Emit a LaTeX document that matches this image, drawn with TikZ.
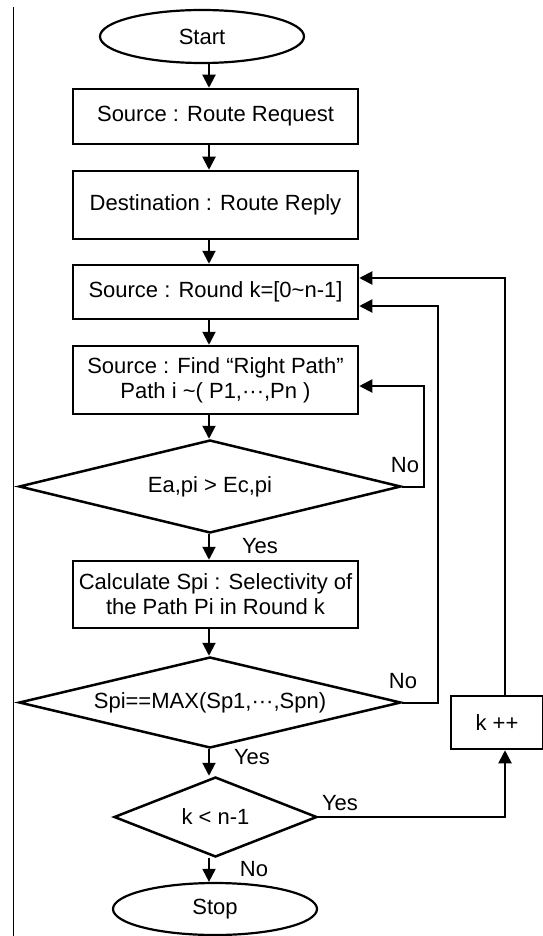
\documentclass[tikz,border=0pt]{standalone}
\usepackage{fontspec}
\setmainfont{Liberation Sans}
\usetikzlibrary{shapes.geometric,arrows.meta}

\begin{document}
\begin{tikzpicture}[x=1pt, y=-1pt, >={Triangle[length=13pt,width=13pt]},
  font=\fontsize{22}{25}\selectfont,
  procbox/.style={draw, line width=2.5pt, minimum width=285pt, inner sep=0pt, align=center},
  decision/.style={draw, diamond, line width=2.5pt, inner sep=0pt},
  term/.style={draw, ellipse, line width=2.2pt, inner sep=0pt},
  flow/.style={->, line width=2pt},
  lbl/.style={inner sep=0pt}]
  \useasboundingbox (0,0) rectangle (542,936);
  % Left rule
  \draw[line width=1pt] (13,7) -- (13,936);
  % Nodes
  \node[term, minimum width=204pt, minimum height=53pt] (start) at (202,36.5) {Start};
  \node[procbox, minimum height=55pt] (req) at (215.5,116.5) {Source : Route Request};
  \node[procbox, minimum height=68pt] (rep) at (215.5,205) {Destination : Route Reply};
  \node[procbox, minimum height=54pt] (round) at (215.5,292) {Source : Round k=[0\textasciitilde n-1]};
  \node[procbox, minimum height=68pt] (find) at (215.5,380) {Source : Find “Right Path”\\Path i \textasciitilde( P1,···,Pn )};
  \node[decision, aspect=4, minimum width=382pt, minimum height=93pt] (cmp1) at (210,486.5) {Ea,pi > Ec,pi};
  \node[procbox, minimum height=67pt] (calc) at (215.5,594.5) {Calculate Spi : Selectivity of\\the Path Pi in Round k};
  \node[decision, aspect=4, minimum width=382pt, minimum height=91pt] (cmp2) at (210,702.5) {Spi==MAX(Sp1,···,Spn)};
  \node[decision, aspect=2.5, minimum width=203pt, minimum height=80pt] (cmp3) at (215.5,817) {k < n-1};
  \node[term, minimum width=204pt, minimum height=52pt] (stop) at (215,909) {Stop};
  \node[procbox, minimum width=92pt, minimum height=53pt] (kpp) at (497,722.5) {k ++};
  % Branch labels
  \node[lbl] (no1) at (405,465) {No};
  \node[lbl] (yes1) at (260,546) {Yes};
  \node[lbl] (no2) at (403,681) {No};
  \node[lbl] (yes2) at (252,757) {Yes};
  \node[lbl] (yes3) at (340,803) {Yes};
  \node[lbl] (no3) at (254,869) {No};
  % Main column
  \coordinate (col) at (209,0);
  \draw[flow] (start.south -| col) -- (req.north -| col);
  \draw[flow] (req.south -| col) -- (rep.north -| col);
  \draw[flow] (rep.south -| col) -- (round.north -| col);
  \draw[flow] (round.south -| col) -- (find.north -| col);
  \draw[flow] (find.south -| col) -- (cmp1.north -| col);
  \draw[flow] (cmp1.south -| col) -- (calc.north -| col);
  \draw[flow] (calc.south -| col) -- (cmp2.north -| col);
  \draw[flow] (cmp2.south -| col) -- (cmp3.north -| col);
  \draw[flow] (cmp3.south -| col) -- (stop.north -| col);
  % Feedback loops
  \coordinate (fbC) at (424,0);
  \coordinate (fbB) at (438,0);
  \coordinate (fbA) at (505,0);
  \coordinate (inC) at ([yshift=-6pt]find.east);
  \coordinate (inB) at ([yshift=-14pt]round.east);
  \coordinate (inA) at ([yshift=14pt]round.east);
  \draw[flow] (cmp1.east) -- (cmp1.east -| fbC) -- (fbC |- inC) -- (inC);
  \draw[flow] (cmp2.east) -- (cmp2.east -| fbB) -- (fbB |- inB) -- (inB);
  \draw[flow] (cmp3.east) -- (cmp3.east -| fbA) -- (kpp.south -| fbA);
  \draw[flow] (kpp.north -| fbA) -- (fbA |- inA) -- (inA);
\end{tikzpicture}
\end{document}
